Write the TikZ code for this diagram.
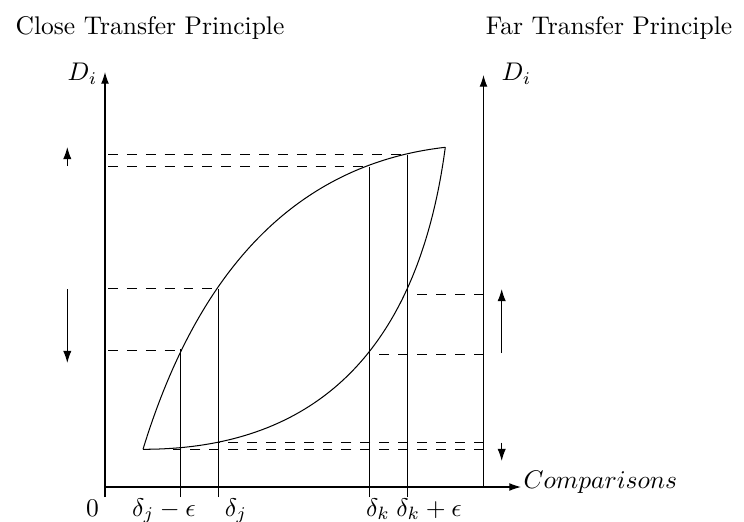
\documentclass[tikz,border=0pt]{standalone}
\usetikzlibrary{arrows.meta}
\begin{document}
\begin{tikzpicture}[x=0.392pt,y=-0.392pt,
  axis/.style={line width=0.45pt,-{Latex[length=4.6pt,width=3.1pt]}},
  guide/.style={line width=0.4pt,dash pattern=on 3.9pt off 3.5pt},
  vline/.style={line width=0.4pt},
  curve/.style={line width=0.4pt},
  move/.style={line width=0.45pt,-{Latex[length=4.8pt,width=3.3pt]}},
  lbl/.style={anchor=base,inner sep=0pt}]
\useasboundingbox (0,0) rectangle (744,522);
% titles
\node[lbl] (tclose) at (150,34.5) {Close Transfer Principle};
\node[lbl] (tfar) at (609,34.5) {Far Transfer Principle};
\node[lbl] (dleft) at (82.5,80.7) {$D_i$};
\node[lbl] (dright) at (516.5,80.7) {$D_i$};
% axes
\coordinate (O) at (105,487);
\coordinate (Ylow) at (105,497);
\coordinate (Ytop) at (105,72);
\coordinate (Xend) at (521,487);
\coordinate (R0) at (483.5,487);
\coordinate (Rtop) at (483.5,75);
\draw[axis] (Ylow) -- (Ytop);
\draw[axis] (O) -- (Xend);
\draw[axis] (R0) -- (Rtop);
\node[anchor=base west,inner sep=0pt] (comp) at (523,488) {$Comparisons$};
% lens
\coordinate (A) at (143,449.3);
\coordinate (B) at (445.3,147.3);
\coordinate (U1) at (199.67,264.43);
\coordinate (U2) at (300.43,163.77);
\coordinate (W1) at (317.67,449.3);
\coordinate (W2) at (418.43,348.63);
\draw[curve] (A) .. controls (U1) and (U2) .. (B);
\draw[curve] (A) .. controls (W1) and (W2) .. (B);
% vertical lines
\coordinate (j1b) at (180.7,497);  \coordinate (j1t) at (180.7,349);
\coordinate (j2b) at (218.7,497);  \coordinate (j2t) at (218.7,288.5);
\coordinate (k1b) at (369.3,497);  \coordinate (k1t) at (369.3,166.5);
\coordinate (k2b) at (407.3,497);  \coordinate (k2t) at (407.3,154.8);
\draw[vline] (j1b) -- (j1t);
\draw[vline] (j2b) -- (j2t);
\draw[vline] (k1b) -- (k1t);
\draw[vline] (k2b) -- (k2t);
% dashed guides to left axis
\coordinate (L1) at (108,154.8);
\coordinate (L2) at (108,166.5);
\coordinate (L3) at (108,288.5);
\coordinate (L4) at (108,350.5);
\coordinate (j1d) at (180.7,350.5);
\draw[guide] (L1) -- (k2t);
\draw[guide] (L2) -- (k1t);
\draw[guide] (L3) -- (j2t);
\draw[guide] (L4) -- (j1d);
% dashed guides to right axis
\coordinate (R1) at (483.5,294.3);
\coordinate (R2) at (483.5,354.5);
\coordinate (R3) at (483.5,442.3);
\coordinate (R4) at (483.5,449.3);
\coordinate (P1) at (407.3,294.3);
\coordinate (P2) at (369.3,354.5);
\coordinate (P3) at (218.7,442.3);
\coordinate (P4) at (173,449.3);
\draw[guide] (R1) -- (P1);
\draw[guide] (R2) -- (P2);
\draw[guide] (R3) -- (P3);
\draw[guide] (R4) -- (P4);
% movement arrows
\coordinate (a1s) at (67.3,166);   \coordinate (a1e) at (67.3,147);
\coordinate (a2s) at (67.3,289);   \coordinate (a2e) at (67.3,363);
\coordinate (a3s) at (501.7,353);  \coordinate (a3e) at (501.7,289);
\coordinate (a4s) at (501.7,442.7);\coordinate (a4e) at (501.7,461);
\draw[move] (a1s) -- (a1e);
\draw[move] (a2s) -- (a2e);
\draw[move] (a3s) -- (a3e);
\draw[move] (a4s) -- (a4e);
% tick labels
\node[lbl] (zero) at (92.5,516) {$0$};
\node[lbl] (lj1) at (164,516) {$\delta_j-\epsilon$};
\node[lbl] (lj2) at (236,516) {$\delta_j$};
\node[lbl] (lk1) at (378,516) {$\delta_k$};
\node[lbl] (lk2) at (429,516) {$\delta_k+\epsilon$};
\end{tikzpicture}
\end{document}
